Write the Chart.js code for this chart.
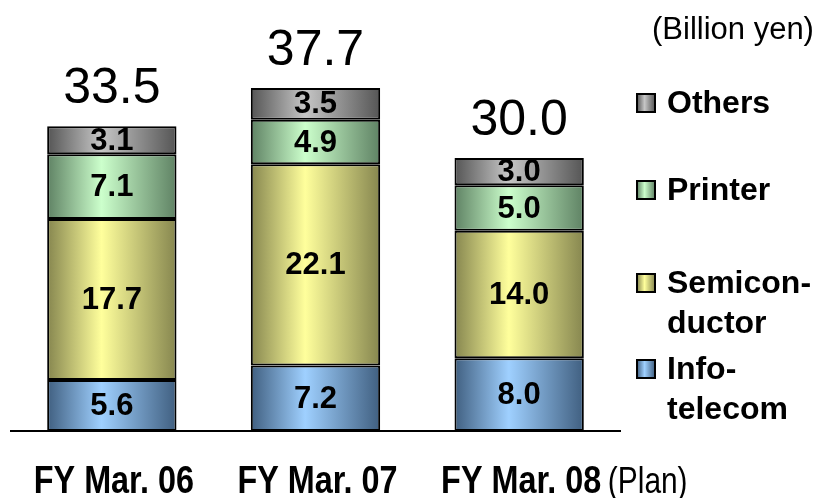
<!DOCTYPE html>
<html>
<head>
<meta charset="utf-8">
<script src="https://cdn.jsdelivr.net/npm/chart.js@4.4.1/dist/chart.umd.min.js"></script>
<style>
  html, body { margin: 0; padding: 0; background: #fff; }
  #wrap { width: 821px; height: 498px; position: relative; }
</style>
</head>
<body>
<div id="wrap"><canvas id="salesChart"></canvas></div>
<script>
// --- Data ---
const categories = ['FY Mar. 06', 'FY Mar. 07', 'FY Mar. 08'];
const categoryNotes = ['', '', '(Plan)'];
const infoTelecom = [5.6, 7.2, 8.0];
const semiconductor = [17.7, 22.1, 14.0];
const printer = [7.1, 4.9, 5.0];
const others = [3.1, 3.5, 3.0];
const totals = [33.5, 37.7, 30.0];
const unitLabel = '(Billion yen)';
const legendLines = {
    'Others': ['Others'],
    'Printer': ['Printer'],
    'Semiconductor': ['Semicon-', 'ductor'],
    'Info-telecom': ['Info-', 'telecom']
};

// edge / centre colours of the cylinder-like gradient
const palette = {
    'Info-telecom': ['#405f80', '#9fd0ff'],
    'Semiconductor': ['#86864f', '#ffff9c'],
    'Printer': ['#5f8264', '#ccffcc'],
    'Others': ['#555555', '#c6c6c6']
};

const BAR_PCT = 0.635;

function barGradient(ctx, left, right, cols) {
    const g = ctx.createLinearGradient(left, 0, right, 0);
    g.addColorStop(0, cols[0]);
    g.addColorStop(0.42, cols[1]);
    g.addColorStop(1, cols[0]);
    return g;
}

function fillFor(name) {
    return function(context) {
        const chart = context.chart;
        const area = chart.chartArea;
        if (!area || context.dataIndex === undefined) return palette[name][1];
        const xs = chart.scales.x;
        const cx = xs.getPixelForValue(context.dataIndex);
        const w = (area.width / categories.length) * BAR_PCT;
        return barGradient(chart.ctx, cx - w / 2, cx + w / 2, palette[name]);
    };
}

function makeSet(name, values) {
    return {
        label: name,
        data: values,
        backgroundColor: fillFor(name),
        borderColor: '#000',
        borderWidth: 2,
        borderSkipped: false,
        barPercentage: 1,
        categoryPercentage: BAR_PCT
    };
}

// --- Labels, axis line, legend ---
const decorPlugin = {
    id: 'decor',
    afterDatasetsDraw(chart) {
        const ctx = chart.ctx;
        const area = chart.chartArea;
        const xs = chart.scales.x;
        const ys = chart.scales.y;
        ctx.save();

        // baseline
        ctx.strokeStyle = '#000';
        ctx.lineWidth = 2;
        ctx.beginPath();
        ctx.moveTo(10, area.bottom);
        ctx.lineTo(621, area.bottom);
        ctx.stroke();

        // segment values
        ctx.fillStyle = '#000';
        ctx.textAlign = 'center';
        ctx.textBaseline = 'middle';
        ctx.font = 'bold 31px "Liberation Sans", Arial, sans-serif';
        chart.data.datasets.forEach((ds, di) => {
            chart.getDatasetMeta(di).data.forEach((bar, i) => {
                const p = bar.getProps(['x', 'y', 'base'], true);
                ctx.fillText(ds.data[i].toFixed(1), p.x, (p.y + p.base) / 2 + 1);
            });
        });

        // totals above the stacks
        ctx.font = '50px "Liberation Sans", Arial, sans-serif';
        ctx.textBaseline = 'alphabetic';
        totals.forEach((t, i) => {
            ctx.fillText(t.toFixed(1), xs.getPixelForValue(i), ys.getPixelForValue(t) - 23);
        });

        // category labels (condensed bold)
        categories.forEach((c, i) => {
            const cx = xs.getPixelForValue(i) + 2;
            ctx.save();
            ctx.translate(cx, 493);
            ctx.scale(0.83, 1);
            ctx.font = 'bold 39px "Liberation Sans", Arial, sans-serif';
            ctx.textAlign = 'center';
            ctx.fillText(c, 0, 0);
            const half = ctx.measureText(c).width / 2;
            if (categoryNotes[i]) {
                ctx.font = '36px "Liberation Sans", Arial, sans-serif';
                ctx.textAlign = 'left';
                ctx.fillText(categoryNotes[i], half + 8, 0);
            }
            ctx.restore();
        });

        // unit
        ctx.font = '31px "Liberation Sans", Arial, sans-serif';
        ctx.textAlign = 'left';
        ctx.fillText(unitLabel, 652, 39);

        // legend
        const legendY = { 'Others': 103, 'Printer': 190, 'Semiconductor': 283, 'Info-telecom': 369 };
        ctx.font = 'bold 32px "Liberation Sans", Arial, sans-serif';
        ctx.textBaseline = 'middle';
        Object.keys(legendY).forEach(name => {
            const y = legendY[name];
            ctx.fillStyle = barGradient(ctx, 637, 655, palette[name]);
            ctx.fillRect(637, y - 9, 18, 18);
            ctx.strokeStyle = '#000';
            ctx.lineWidth = 2;
            ctx.strokeRect(637, y - 9, 18, 18);
            ctx.fillStyle = '#000';
            legendLines[name].forEach((ln, k) => {
                ctx.fillText(ln, 667, y + 1 + k * 40);
            });
        });

        ctx.restore();
    }
};

new Chart(document.getElementById('salesChart'), {
    type: 'bar',
    data: {
        labels: categories,
        datasets: [
            makeSet('Info-telecom', infoTelecom),
            makeSet('Semiconductor', semiconductor),
            makeSet('Printer', printer),
            makeSet('Others', others)
        ]
    },
    options: {
        responsive: true,
        maintainAspectRatio: false,
        animation: false,
        layout: { padding: { left: 10, right: 200, top: 67, bottom: 67 } },
        scales: {
            x: { stacked: true, display: false },
            y: { stacked: true, display: false, min: 0, max: 40 }
        },
        plugins: {
            legend: { display: false },
            tooltip: { enabled: false }
        }
    },
    plugins: [decorPlugin]
});
</script>
</body>
</html>
